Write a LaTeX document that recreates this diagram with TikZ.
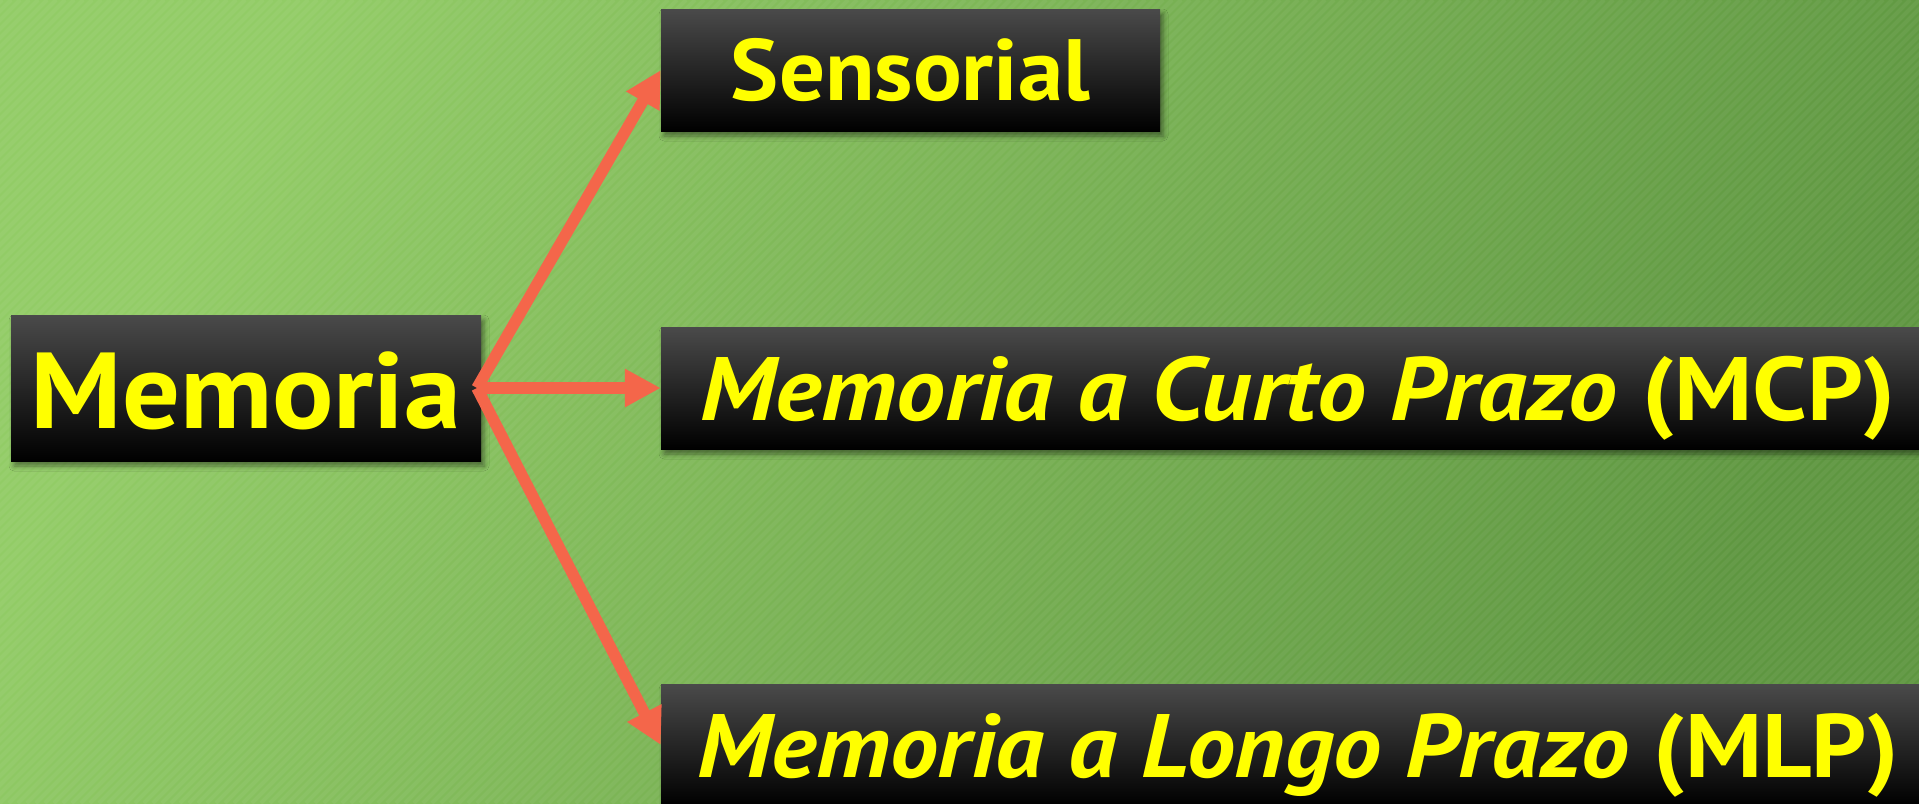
\documentclass[tikz,border=0pt]{standalone}
\usepackage{fontspec}
\setmainfont{PT Sans}
\usetikzlibrary{arrows.meta,shadows.blur}
\definecolor{bgA}{HTML}{92CC66}
\definecolor{bgB}{HTML}{5E9640}
\definecolor{arr}{HTML}{F4664A}
\definecolor{txt}{HTML}{FFFF00}
\definecolor{boxtop}{HTML}{4A4A4A}
\tikzset{
  blackbox/.style={draw=none, inner sep=0pt, top color=boxtop, middle color=black, bottom color=black,
    text=txt, font=\bfseries, text depth=0pt, blur shadow={shadow xshift=3pt, shadow yshift=-5pt, shadow blur radius=5pt, shadow opacity=45}},
  branch/.style={draw=arr, line width=11.5pt, -{Triangle[length=36pt,width=36pt]}},
  stripe/.style={white, opacity=0.05, line width=4pt}
}
\begin{document}
\begin{tikzpicture}[x=1pt,y=-1pt]
\useasboundingbox (0,0) rectangle (1919,803);
\shade[top color=bgA, bottom color=bgB, shading angle=62] (0,0) rectangle (1919,803);
\begin{scope}
\clip (0,0) rectangle (1919,803);
\foreach \i in {-810,-801,...,1925} \draw[stripe] (\i,803) -- ({\i+803},0);
\end{scope}
\node[blackbox, minimum width=470pt, minimum height=146pt, text height=80pt] (mem) at (246,388)
  {\fontsize{108}{108}\selectfont\scalebox{1.06}[1]{Memoria}};
\node[blackbox, minimum width=499pt, minimum height=122pt, text height=60pt] (sens) at (910.5,70)
  {\fontsize{87}{87}\selectfont\scalebox{1.045}[1]{Sensorial}};
\node[blackbox, minimum width=1274pt, minimum height=122pt, text height=64pt] (mcp) at (1298,388)
  {\fontsize{90}{90}\selectfont\scalebox{1.088}[1]{{\itshape Memoria a Curto Prazo} (MCP)}};
\node[blackbox, minimum width=1274pt, minimum height=122pt, text height=64pt] (mlp) at (1298,745)
  {\fontsize{90}{90}\selectfont\scalebox{1.071}[1]{{\itshape Memoria a Longo Prazo} (MLP)}};
\coordinate (hub) at (477,388);
\draw[branch] (hub) -- (sens.west);
\draw[branch] (hub) -- (mcp.west);
\draw[branch] (hub) -- (mlp.west);
\end{tikzpicture}
\end{document}
